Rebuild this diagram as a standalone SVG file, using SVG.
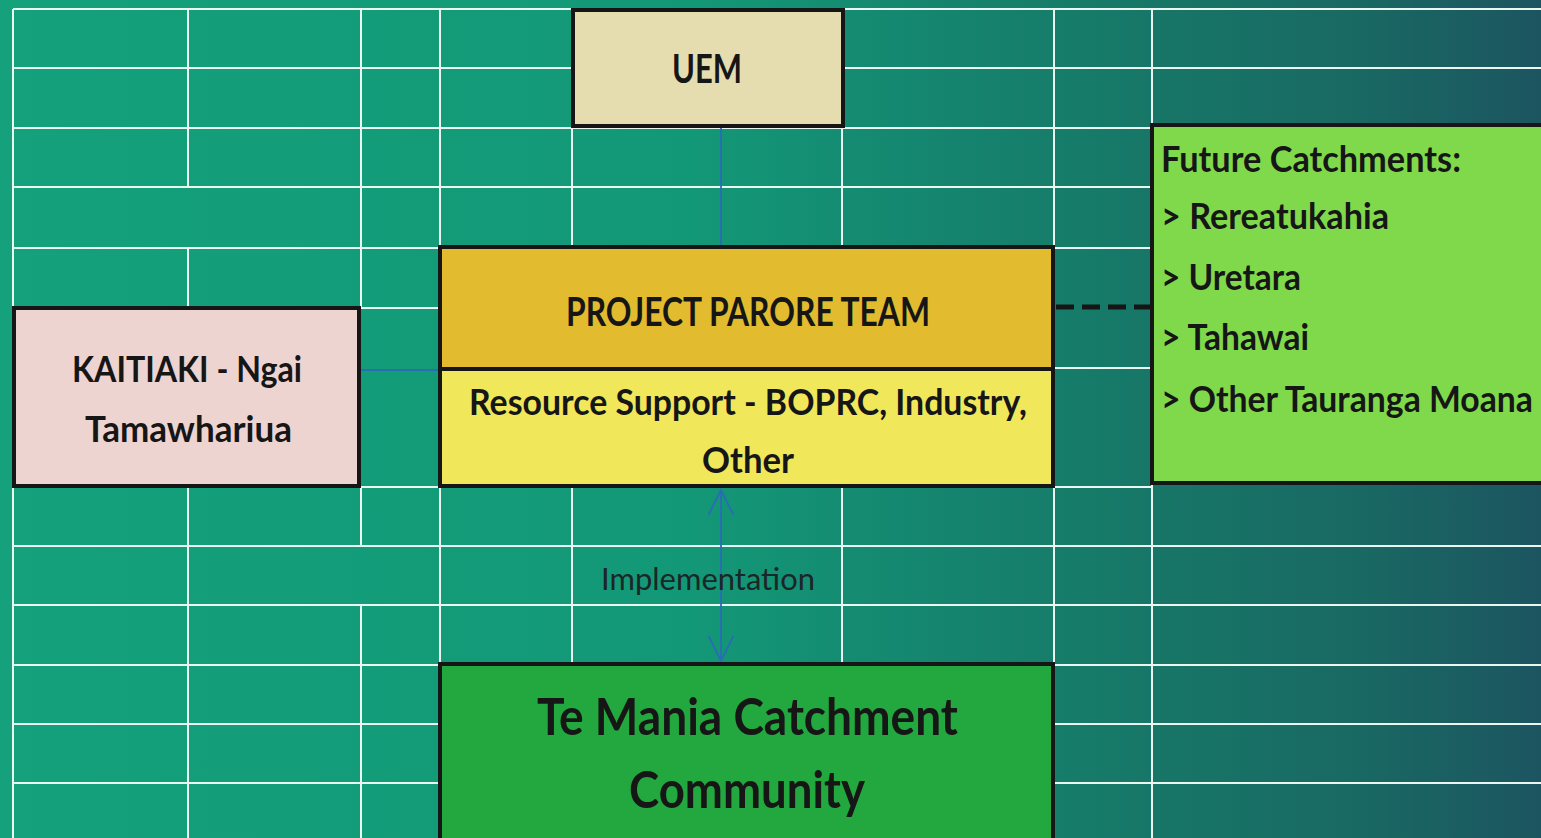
<svg xmlns="http://www.w3.org/2000/svg" width="1541" height="838" viewBox="0 0 1541 838">
  <defs>
    <linearGradient id="bg" x1="0" y1="0" x2="1" y2="0">
      <stop offset="0" stop-color="#14a17b"/>
      <stop offset="0.45" stop-color="#139877"/>
      <stop offset="0.6" stop-color="#15866f"/>
      <stop offset="0.75" stop-color="#177667"/>
      <stop offset="0.88" stop-color="#196963"/>
      <stop offset="1" stop-color="#1c5560"/>
    </linearGradient>
    <marker id="vhead" viewBox="-30 -15 32 30" markerWidth="32" markerHeight="30" refX="0" refY="0" markerUnits="userSpaceOnUse" orient="auto-start-reverse">
      <path d="M-25,-12.5 L0,0 L-25,12.5" fill="none" stroke="#2a6db5" stroke-width="1.8"/>
    </marker>
  </defs>
  <style>
    .grid { fill: none; stroke: #eaf6ef; stroke-width: 2; }
    .box { stroke: #161616; stroke-width: 4; }
    .t { font-family: Lato, "Open Sans", "Liberation Sans", sans-serif; font-weight: 700; fill: #161616; }
    .lbl { font-family: Lato, "Open Sans", "Liberation Sans", sans-serif; font-weight: 400; fill: #1b2626; }
    .conn { fill: none; stroke: #2a6db5; stroke-width: 1.8; }
    .dash { fill: none; stroke: #151515; stroke-width: 5; stroke-dasharray: 18 8; }
  </style>
  <rect x="0" y="0" width="1541" height="838" fill="url(#bg)"/>
  <path class="grid" d="M13 9H1541 M13 68H1541 M13 128H1541 M13 187H1541 M13 248H1541 M361 308H440 M1054 368H1152 M361 487H440 M1054 487H1152 M13 546H1541 M13 605H1541 M13 665H1541 M13 724H1541 M13 783H1541 M13 9V838 M188 9V187 M188 248V308 M188 487V838 M361 9V308 M361 487V546 M361 605V838 M440 9V665 M572 9V248 M572 487V665 M842 9V248 M842 487V665 M1054 9V838 M1152 9V838"/>

  <g id="connectors">
    <line class="conn" x1="721" y1="128" x2="721" y2="247"/>
    <line class="conn" x1="361" y1="370" x2="440" y2="370"/>
    <line class="conn" x1="721" y1="490" x2="721" y2="661" marker-start="url(#vhead)" marker-end="url(#vhead)"/>
    <text class="lbl" x="601" y="590" font-size="30" textLength="214" lengthAdjust="spacingAndGlyphs">Implementation</text>
    <line class="dash" x1="1056" y1="307" x2="1150" y2="307"/>
  </g>

  <g id="node-uem">
    <rect class="box" x="573" y="10" width="270" height="116" fill="#e5dcb0"/>
    <text class="t" x="672" y="83" font-size="40" textLength="70" lengthAdjust="spacingAndGlyphs">UEM</text>
  </g>

  <g id="node-project-parore-team">
    <rect class="box" x="440" y="247" width="613" height="122" fill="#e2bc2e"/>
    <text class="t" x="566" y="326" font-size="41" textLength="364" lengthAdjust="spacingAndGlyphs">PROJECT PARORE TEAM</text>
  </g>

  <g id="node-resource-support">
    <rect class="box" x="440" y="369" width="613" height="117" fill="#f0e75b"/>
    <text class="t" x="469" y="415" font-size="36" textLength="558" lengthAdjust="spacingAndGlyphs">Resource Support - BOPRC, Industry,</text>
    <text class="t" x="702" y="473" font-size="36" textLength="92" lengthAdjust="spacingAndGlyphs">Other</text>
  </g>

  <g id="node-kaitiaki">
    <rect class="box" x="14" y="308" width="345" height="178" fill="#eed4d1"/>
    <text class="t" x="72" y="382" font-size="37" textLength="230" lengthAdjust="spacingAndGlyphs">KAITIAKI - Ngai</text>
    <text class="t" x="85" y="442" font-size="37" textLength="207" lengthAdjust="spacingAndGlyphs">Tamawhariua</text>
  </g>

  <g id="node-future-catchments">
    <rect class="box" x="1152" y="125" width="400" height="358" fill="#80d94b"/>
    <text class="t" x="1161" y="172" font-size="36" textLength="300" lengthAdjust="spacingAndGlyphs">Future Catchments:</text>
    <text class="t" x="1161" y="229" font-size="36" textLength="228" lengthAdjust="spacingAndGlyphs">&gt; Rereatukahia</text>
    <text class="t" x="1161" y="290" font-size="36" textLength="140" lengthAdjust="spacingAndGlyphs">&gt; Uretara</text>
    <text class="t" x="1161" y="350" font-size="36" textLength="148" lengthAdjust="spacingAndGlyphs">&gt; Tahawai</text>
    <text class="t" x="1161" y="412" font-size="36" textLength="372" lengthAdjust="spacingAndGlyphs">&gt; Other Tauranga Moana</text>
  </g>

  <g id="node-te-mania">
    <rect class="box" x="440" y="664" width="613" height="200" fill="#22a83e"/>
    <text class="t" x="537" y="735" font-size="51" textLength="421" lengthAdjust="spacingAndGlyphs">Te Mania Catchment</text>
    <text class="t" x="629" y="808" font-size="51" textLength="236" lengthAdjust="spacingAndGlyphs">Community</text>
  </g>
</svg>
